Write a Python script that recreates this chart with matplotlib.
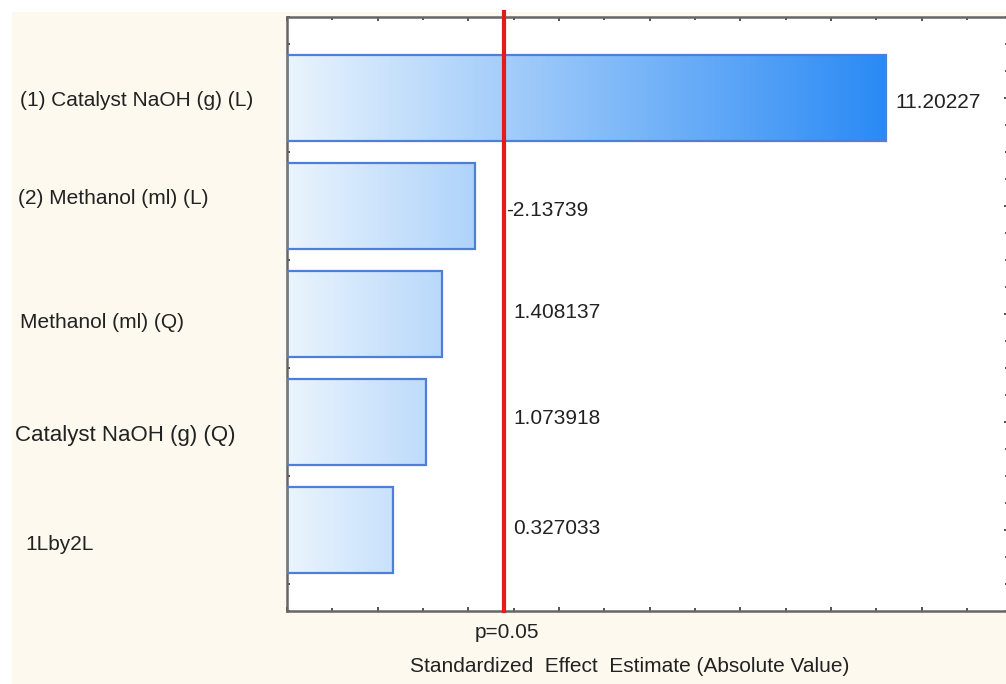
import numpy as np
import matplotlib
matplotlib.use("Agg")
import matplotlib.pyplot as plt
from matplotlib.colors import LinearSegmentedColormap
from matplotlib.patches import Rectangle
from matplotlib.ticker import MultipleLocator

# Pareto chart of standardized effects
factors = ["(1) Catalyst NaOH (g) (L)", "(2) Methanol (ml) (L)", "Methanol (ml) (Q)",
           "Catalyst NaOH (g) (Q)", "1Lby2L"]
effects = [11.20227, -2.13739, 1.408137, 1.073918, 0.327033]
effect_text = ["11.20227", "-2.13739", "1.408137", "1.073918", "0.327033"]
p_limit = 2.776
x_min, x_max = -2, 13.9

plt.rcParams['font.family'] = ['Liberation Sans', 'DejaVu Sans']
text_col = '#222222'

fig = plt.figure(figsize=(10.06, 6.84), dpi=100, facecolor='white')
# cream panel behind the chart
fig.add_artist(Rectangle((12 / 1006, 0), 1, 1 - 12 / 684, transform=fig.transFigure,
                         facecolor='#FDF9EF', edgecolor='none', zorder=-1))

ax = fig.add_axes([287 / 1006, 1 - 611 / 684, (1008 - 287) / 1006, (611 - 17) / 684])
ax.set_zorder(1)
ax.set_facecolor('white')

y = np.arange(len(factors))
lengths = np.abs(effects)
bars = ax.barh(y, lengths - x_min, left=x_min, height=0.8, facecolor='none',
               edgecolor='#4D7FD6', linewidth=1.6, zorder=3)

# horizontal gradient, same colour at the same x for every bar
cmap = LinearSegmentedColormap.from_list('grad', ['#EAF4FD', '#2A8AF5'])
grad = np.linspace(0, 1, 256).reshape(1, -1)
for bar in bars:
    im = ax.imshow(grad, cmap=cmap, aspect='auto', zorder=2,
                   extent=[x_min, max(lengths), bar.get_y() + bar.get_height(), bar.get_y()])
    im.set_clip_path(bar)

ax.set_xlim(x_min, x_max)
ax.set_ylim(len(factors) - 0.25, -0.75)

ax.axvline(p_limit, ymin=0, ymax=1.008, color='#E51A1A', linewidth=3, zorder=4, clip_on=False)

# value labels
val_dy = [5, 5, -1, -4, -2]
for i, (v, s) in enumerate(zip(lengths, effect_text)):
    xpos = max(v, p_limit) + 0.22
    dx = -7 if s.startswith('-') else 0
    ax.annotate(s, (xpos, i), xytext=(dx, -val_dy[i]), textcoords='offset pixels',
                ha='left', va='center', fontsize=15, color=text_col)

# factor labels in the cream panel
lab_x = [20, 18, 20, 15, 25]
lab_dy = [2, -8, 8, 13, 15]
lab_size = [15, 15, 15, 16, 15]
for i, name in enumerate(factors):
    ax.annotate(name, (lab_x[i], i), xycoords=('figure pixels', 'data'),
                xytext=(0, -lab_dy[i]), textcoords='offset pixels',
                ha='left', va='center', fontsize=lab_size[i], color=text_col,
                annotation_clip=False)

fig.text(507 / 1006, 1 - 632 / 684, "p=0.05", ha='center', va='center',
         fontsize=15, color=text_col)
fig.text(630 / 1006, 1 - 666 / 684, "Standardized  Effect  Estimate (Absolute Value)",
         ha='center', va='center', fontsize=15, color=text_col)

# ticks, no tick labels
ax.xaxis.set_major_locator(MultipleLocator(2))
ax.xaxis.set_minor_locator(MultipleLocator(1))
ax.set_yticks(y)
ax.yaxis.set_minor_locator(MultipleLocator(0.25))
ax.tick_params(which='both', direction='in', top=True, right=True, color='#444444',
               labelbottom=False, labelleft=False, width=1.3)
ax.tick_params(which='major', length=3)
ax.tick_params(which='minor', length=2)

for side in ['left', 'top', 'bottom']:
    ax.spines[side].set_color('#666666')
    ax.spines[side].set_linewidth(1.8)
ax.spines['right'].set_visible(False)

fig.savefig('out.png', dpi=100, facecolor=fig.get_facecolor())
